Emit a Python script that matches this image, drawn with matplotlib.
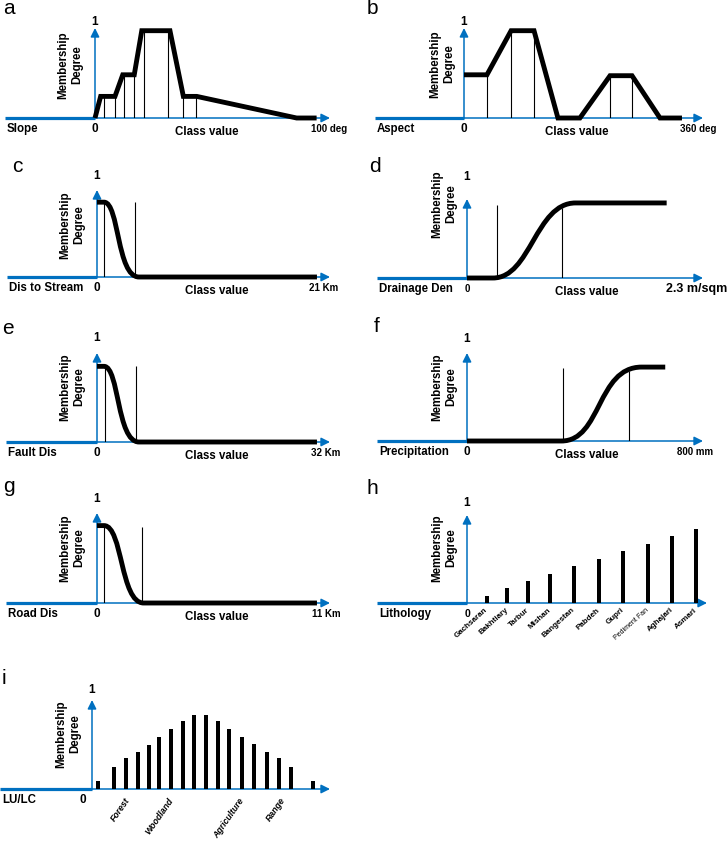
import numpy as np
import matplotlib.pyplot as plt
from matplotlib.path import Path
from matplotlib.patches import PathPatch

plt.rcParams['font.family'] = ['Liberation Sans', 'DejaVu Sans']

BLUE = '#0070C0'
W, H = 728, 841

# ---- data (x: 0 = origin, 100 = arrow tip; y: 1 = top of the axis arrow) ----
slope_x = [0, 2.4, 8.5, 11.8, 16.7, 19.9, 31.9, 37.6, 43.3, 85.8, 94.3]
slope_y = [0, 0.24, 0.24, 0.48, 0.48, 0.97, 0.97, 0.24, 0.24, 0, 0]
slope_vx = [4.0, 8.5, 12.3, 16.7, 20.9, 31.2, 37.3, 43.0]

aspect_x = [0, 9.6, 19.7, 29.3, 39.3, 48.5, 61.1, 70.3, 82.0, 91.2]
aspect_y = [0.48, 0.48, 0.97, 0.97, 0, 0, 0.47, 0.47, 0, 0]
aspect_vx = [9.6, 19.7, 29.3, 61.1, 70.3]

# bezier control points: start, line, 3 curve points, line end
stream_pts = [(0, 0.86), (3, 0.86), (9.5, 0.86), (8.5, 0), (18, 0), (94.4, 0)]
stream_vx, stream_vy = [3.1, 16.3], [0.86, 0.86]

drain_pts = [(0, 0), (11, 0), (27, 0), (29, 0.95), (46, 0.95), (84.6, 0.95)]
drain_vx, drain_vy = [12.6, 40.1], [0.92, 0.89]

fault_pts = [(0, 0.85), (3, 0.85), (9.5, 0.85), (8.5, 0), (18, 0), (94.4, 0)]
fault_vx, fault_vy = [3.4, 16.7], [0.85, 0.85]

precip_pts = [(0, 0), (40, 0), (57, 0), (55, 0.84), (74, 0.84), (84, 0.84)]
precip_vx, precip_vy = [40.7, 68.6], [0.83, 0.79]

road_pts = [(0, 0.86), (3, 0.86), (11, 0.86), (10, 0), (20, 0), (94.4, 0)]
road_vx, road_vy = [3.1, 19.2], [0.86, 0.85]

lith_names = ['Gachsaran', 'Bakhtiary', 'Tarbur', 'Mishan', 'Bangestan',
              'Pabdeh', 'Gupri', 'Pediment Fan', 'Aghajari', 'Asmari']
lith_x = [8.3, 16.7, 25.4, 34.6, 44.6, 55.0, 65.0, 75.4, 85.4, 95.4]
lith_vals = [0.08, 0.17, 0.25, 0.33, 0.42, 0.50, 0.59, 0.67, 0.76, 0.84]

lulc_x = [2.5, 9.2, 14.3, 19.3, 23.9, 28.2, 33.2, 38.2, 42.9, 47.9,
          52.9, 57.6, 63.0, 68.1, 73.5, 78.6, 83.6, 92.9]
lulc_vals = [0.09, 0.25, 0.35, 0.42, 0.49, 0.58, 0.67, 0.76, 0.83, 0.83,
             0.76, 0.67, 0.58, 0.51, 0.42, 0.35, 0.25, 0.09]
lulc_names = ['Forest', 'Woodland', 'Agriculture', 'Range']
lulc_label_x = [15.1, 33.6, 63.0, 80.3]

fig = plt.figure(figsize=(W / 100, H / 100), dpi=100)


def ftext(x, y, s, **kw):
    kw.setdefault('ha', 'center')
    kw.setdefault('va', 'center')
    fig.text(x / W, 1 - y / H, s, **kw)


def panel(ox, oy, tip, top, left, letter, letter_xy, one_y, name, unit, unit_x,
          mem_x, mem_y, cv_x, unit_size=7, zero_x=None, zero_size=8.5):
    # axes box = origin .. arrow tip (x), baseline .. arrow top (y)
    ax = fig.add_axes([ox / W, 1 - oy / H, (tip - ox) / W, (oy - top) / H])
    ax.set_xlim(0, 100)
    ax.set_ylim(0, 1)
    ax.axis('off')
    sx = (tip - ox) / 100
    ax.plot([(left - ox) / sx, 0], [0, 0], color=BLUE, lw=2.3,
            solid_capstyle='butt', clip_on=False, zorder=1)
    arrow = dict(arrowstyle='-|>', color=BLUE, lw=1.1, mutation_scale=13,
                 shrinkA=0, shrinkB=0)
    ax.annotate('', xy=(100, 0), xytext=(0, 0), arrowprops=arrow,
                annotation_clip=False, zorder=1)
    ax.annotate('', xy=(0, 1), xytext=(0, 0), arrowprops=arrow,
                annotation_clip=False, zorder=1)

    ftext(*letter_xy, letter, fontsize=15)
    ftext(ox, one_y, '1', fontsize=8.5, fontweight='bold')
    ftext(mem_x, mem_y, 'Membership\nDegree', rotation=90, fontsize=8.3,
          fontweight='bold', multialignment='center', linespacing=1.25)
    ly = oy + 11
    ftext(left + 2, ly, name, ha='left', fontsize=8.3, fontweight='bold')
    ftext(ox if zero_x is None else zero_x, ly, '0', fontsize=zero_size,
          fontweight='bold')
    if cv_x is not None:
        ftext(cv_x, ly + 3, 'Class value', fontsize=8.3, fontweight='bold')
    if unit:
        ftext(unit_x, ly, unit, fontsize=unit_size, fontweight='bold')
    return ax


def curve(ax, pts):
    codes = [Path.MOVETO, Path.LINETO, Path.CURVE4, Path.CURVE4,
             Path.CURVE4, Path.LINETO]
    ax.add_patch(PathPatch(Path(pts, codes), fill=False, lw=3.5,
                           edgecolor='black', capstyle='butt', zorder=3,
                           clip_on=False))


def vlines(ax, xs, ys):
    ax.vlines(xs, 0, ys, color='black', lw=0.8, zorder=2)


# a - slope
ax = panel(95, 118, 330, 28, 5, 'a', (9, 9), 22, 'Slope', '100 deg', 329,
           70, 65, 207)
ax.plot(slope_x, slope_y, color='black', lw=3.5, zorder=3,
        solid_joinstyle='miter', solid_capstyle='butt', clip_on=False)
vlines(ax, slope_vx, np.interp(slope_vx, slope_x, slope_y))

# b - aspect
ax = panel(464, 118, 703, 28, 375, 'b', (372, 9), 22, 'Aspect', '360 deg', 698,
           442, 64, 577)
ax.plot(aspect_x, aspect_y, color='black', lw=3.5, zorder=3,
        solid_joinstyle='miter', solid_capstyle='butt', clip_on=False)
vlines(ax, aspect_vx, np.interp(aspect_vx, aspect_x, aspect_y))

# c - distance to stream
ax = panel(97, 277, 330, 190, 7, 'c', (17, 167), 176, 'Dis to Stream', '21 Km',
           324, 72, 225, 217)
curve(ax, stream_pts)
vlines(ax, stream_vx, stream_vy)

# d - drainage density
ax = panel(467, 278, 703, 199, 377, 'd', (375, 166), 177, 'Drainage Den',
           '2.3 m/sqm', 697, 444, 204, 587, unit_size=9, zero_size=7)
curve(ax, drain_pts)
vlines(ax, drain_vx, drain_vy)

# e - fault distance
ax = panel(97, 442, 330, 353, 6, 'e', (8, 328), 338, 'Fault Dis', '32 Km', 326,
           72, 387, 217)
curve(ax, fault_pts)
vlines(ax, fault_vx, fault_vy)

# f - precipitation
ax = panel(467, 441, 703, 353, 377, 'f', (377, 327), 339, 'Precipitation',
           '800 mm', 695, 444, 387, 587)
curve(ax, precip_pts)
vlines(ax, precip_vx, precip_vy)

# g - road distance
ax = panel(97, 603, 330, 513, 6, 'g', (9, 486), 499, 'Road Dis', '11 Km', 326,
           72, 548, 217)
curve(ax, road_pts)
vlines(ax, road_vx, road_vy)

# h - lithology
ax = panel(467, 603, 707, 515, 377, 'h', (372, 488), 503, 'Lithology', None, 0,
           444, 548, None, zero_size=7.5)
ax.bar(lith_x, lith_vals, width=1.7, color='black', zorder=3)
for x, name in zip(lith_x, lith_names):
    small = name == 'Pediment Fan'
    ax.text(x, -0.07, name, rotation=42, rotation_mode='anchor', ha='right',
            va='center', fontsize=5.0 if small else 5.8,
            fontweight='normal' if small else 'bold', clip_on=False)

# i - land use / land cover
ax = panel(92, 789, 330, 700, 0, 'i', (4, 678), 690, 'LU/LC', None, 0,
           68, 734, None, zero_x=83)
ax.bar(lulc_x, lulc_vals, width=1.5, color='black', zorder=3)
for x, name in zip(lulc_label_x, lulc_names):
    ax.text(x, -0.11, name, rotation=55, rotation_mode='anchor', ha='right',
            va='center', fontsize=6.3, fontweight='bold', fontstyle='italic',
            clip_on=False)

fig.savefig('out.png', dpi=100)
